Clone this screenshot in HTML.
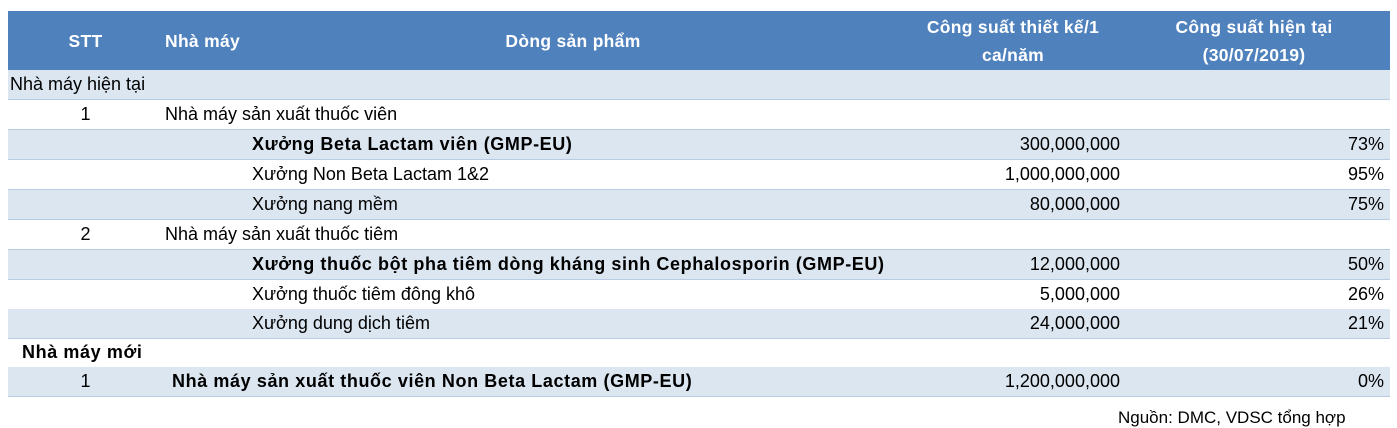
<!DOCTYPE html>
<html><head><meta charset="utf-8"><style>
body{margin:0;width:1397px;height:418px;background:#fff;position:relative;overflow:hidden;font-family:"Liberation Sans",sans-serif;font-size:18px;color:#000}
.hdr{position:absolute;left:8px;top:11px;width:1382px;height:59px;background:#4f81bd;color:#fff;font-weight:bold;font-size:17.5px;letter-spacing:0.3px}
.hdr div{position:absolute;line-height:28px;text-align:center;white-space:nowrap}
.row{position:absolute;left:8px;width:1382px;height:29px;border-bottom:1px solid #b8cce4}
.row.l{background:#dce6f1}
.row span{position:absolute;top:0;line-height:29px;white-space:nowrap}
.b{font-weight:bold;letter-spacing:0.6px}
.r{text-align:right}
</style></head><body>
<div class="hdr">
<div style="left:50px;width:55px;top:16px">STT</div>
<div style="left:157px;top:16px;text-align:left">Nhà máy</div>
<div style="left:450px;width:230px;top:16px">Dòng sản phẩm</div>
<div style="left:890px;width:230px;top:2px">Công suất thiết kế/1<br>ca/năm</div>
<div style="left:1130px;width:232px;top:2px">Công suất hiện tại<br>(30/07/2019)</div>
</div>
<div id="rows"></div>
<div style="position:absolute;left:1118px;top:408px;font-size:17px">Nguồn: DMC, VDSC tổng hợp</div>
<script>
const tops=[70,100,130,160,190,220,250,280,309,338,367];
const rows=[
 {t:'section',a:'Nhà máy hiện tại',bold:false},
 {stt:'1',f:'Nhà máy sản xuất thuốc viên'},
 {p:'Xưởng Beta Lactam viên (GMP-EU)',c:'300,000,000',u:'73%',bold:true},
 {p:'Xưởng Non Beta Lactam 1&2',c:'1,000,000,000',u:'95%'},
 {p:'Xưởng nang mềm',c:'80,000,000',u:'75%'},
 {stt:'2',f:'Nhà máy sản xuất thuốc tiêm'},
 {p:'Xưởng thuốc bột pha tiêm dòng kháng sinh Cephalosporin (GMP-EU)',c:'12,000,000',u:'50%',bold:true},
 {p:'Xưởng thuốc tiêm đông khô',c:'5,000,000',u:'26%'},
 {p:'Xưởng dung dịch tiêm',c:'24,000,000',u:'21%'},
 {t:'section',a:'Nhà máy mới',bold:true},
 {stt:'1',f:'Nhà máy sản xuất thuốc viên Non Beta Lactam (GMP-EU)',c:'1,200,000,000',u:'0%',fb:true}
];
const host=document.getElementById('rows');
rows.forEach((r,i)=>{
 const d=document.createElement('div');
 d.className='row'+(i%2==0?' l':'');
 d.style.top=tops[i]+'px';
 
 
 let h='';
 if(r.t==='section'){h=`<span style="left:${r.bold?14:2}px" class="${r.bold?'b':''}">${r.a}</span>`;}
 else{
  if(r.stt)h+=`<span style="left:50px;width:55px;text-align:center">${r.stt}</span>`;
  if(r.f)h+=`<span style="left:${r.fb?164:157}px" class="${r.fb?'b':''}">${r.f}</span>`;
  if(r.p)h+=`<span style="left:244px" class="${r.bold?'b':''}">${r.p.replace('&','&amp;')}</span>`;
  if(r.c)h+=`<span class="r" style="right:270px">${r.c}</span>`;
  if(r.u)h+=`<span class="r" style="right:6px">${r.u}</span>`;
 }
 d.innerHTML=h;
 host.appendChild(d);
});
</script>
</body></html>
